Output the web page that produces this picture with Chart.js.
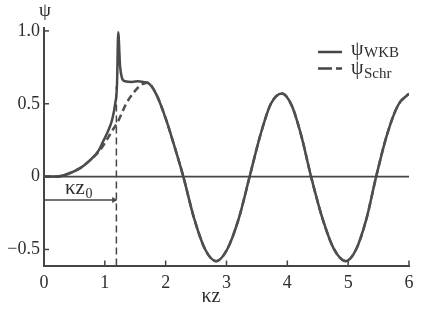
<!DOCTYPE html>
<html lang="en">
<head>
<meta charset="UTF-8">
<title>psi WKB vs Schr</title>
<script src="https://cdn.jsdelivr.net/npm/chart.js"></script>
<style>
  html, body { margin: 0; padding: 0; background: #fff; }
  #box { width: 436px; height: 316px; }
</style>
</head>
<body>
<div id="box"><canvas id="c"></canvas></div>
<script>
// values
const kzWKB  = [0, 0.2, 0.4, 0.6, 0.75, 0.9, 0.97, 1.05, 1.12, 1.17, 1.2, 1.22, 1.25, 1.28, 1.33, 1.45, 1.55, 1.65, 1.7,
                1.84, 2.0, 2.15, 2.29, 2.47, 2.65, 2.83, 3.01, 3.2, 3.38, 3.56, 3.73, 3.91, 4.07, 4.23, 4.39, 4.58, 4.77, 4.96, 5.13, 5.3, 5.46, 5.64, 5.82, 6.0];
const psiWKB = [0, 0.0, 0.02, 0.06, 0.11, 0.18, 0.24, 0.31, 0.39, 0.5, 0.63, 0.99, 0.76, 0.68, 0.655, 0.65, 0.655, 0.648, 0.645,
                0.57, 0.4, 0.2, 0, -0.29, -0.5, -0.58, -0.5, -0.29, 0, 0.29, 0.5, 0.57, 0.49, 0.28, 0, -0.29, -0.5, -0.58, -0.5, -0.29, 0, 0.29, 0.49, 0.57];

const kzSchr  = [0, 0.2, 0.4, 0.6, 0.75, 0.9, 1.0, 1.1, 1.23, 1.35, 1.5, 1.6, 1.7,
                 1.84, 2.0, 2.15, 2.29, 2.47, 2.65, 2.83, 3.01, 3.2, 3.38, 3.56, 3.73, 3.91, 4.07, 4.23, 4.39, 4.58, 4.77, 4.96, 5.13, 5.3, 5.46, 5.64, 5.82, 6.0];
const psiSchr = [0, 0.0, 0.02, 0.06, 0.11, 0.17, 0.23, 0.3, 0.39, 0.5, 0.59, 0.63, 0.645,
                 0.57, 0.4, 0.2, 0, -0.29, -0.5, -0.58, -0.5, -0.29, 0, 0.29, 0.5, 0.57, 0.49, 0.28, 0, -0.29, -0.5, -0.58, -0.5, -0.29, 0, 0.29, 0.49, 0.57];

const kz0 = 1.19;          // turning point
const arrowY = -0.16;      // height of the kz0 arrow
const xTicks = [0, 1, 2, 3, 4, 5, 6];
const yTicks = [-0.5, 0, 0.5, 1.0];
const yMin = -0.61, yMax = 1.02;

const ink = '#454545';
const serif = '"Liberation Serif", "DejaVu Serif", serif';

const pts = (xs, ys) => xs.map((x, i) => ({ x: x, y: ys[i] }));

// text with a subscript, placed from its left edge
function subText(ctx, main, sub, x, y, big, small, drop) {
  ctx.font = big + 'px ' + serif;
  ctx.fillText(main, x, y);
  const w = ctx.measureText(main).width;
  ctx.font = small + 'px ' + serif;
  ctx.fillText(sub, x + w + 0.5, y + drop);
}

const overlay = {
  id: 'overlay',
  afterDraw(chart) {
    const { ctx, scales: { x, y } } = chart;
    ctx.save();
    ctx.strokeStyle = ink;
    ctx.fillStyle = '#2e2e2e';
    ctx.lineWidth = 1.5;
    // inward ticks
    yTicks.forEach(v => {
      if (v === 0) return;
      const py = y.getPixelForValue(v);
      ctx.beginPath(); ctx.moveTo(x.left, py); ctx.lineTo(x.left + 5, py); ctx.stroke();
    });
    xTicks.forEach(v => {
      if (v === 0) return;
      const px = x.getPixelForValue(v);
      ctx.beginPath(); ctx.moveTo(px, y.bottom); ctx.lineTo(px, y.bottom - 5); ctx.stroke();
    });
    // axis titles
    ctx.textAlign = 'center'; ctx.textBaseline = 'middle';
    ctx.font = '19px ' + serif;
    ctx.fillText('ψ', 45, 11);
    ctx.font = '20px ' + serif;
    ctx.fillText('κz', 211, 297);
    // kz0 label
    ctx.textAlign = 'left'; ctx.textBaseline = 'alphabetic';
    subText(ctx, 'κz', '0', 65, 194, 21, 14, 4);
    // legend
    ctx.lineWidth = 2.5;
    ctx.beginPath(); ctx.moveTo(318, 52); ctx.lineTo(342, 52); ctx.stroke();
    ctx.setLineDash([14, 4]);
    ctx.beginPath(); ctx.moveTo(318, 68.5); ctx.lineTo(342, 68.5); ctx.stroke();
    ctx.setLineDash([]);
    subText(ctx, 'ψ', 'WKB', 351, 55, 20, 15, 2);
    subText(ctx, 'ψ', 'Schr', 351, 74, 20, 15, 4);
    ctx.restore();
  }
};

new Chart(document.getElementById('c'), {
  type: 'line',
  data: {
    datasets: [
      { // zero line
        data: pts([0, 6], [0, 0]),
        borderColor: ink, borderWidth: 1.8, pointRadius: 0
      },
      { // kz0 arrow
        data: pts([0, kz0 - 0.04], [arrowY, arrowY]),
        borderColor: ink, borderWidth: 1.5,
        pointRadius: [0, 3.5], pointStyle: 'triangle', rotation: 90,
        pointBackgroundColor: ink, pointBorderWidth: 0
      },
      { // kz0 dashed marker
        data: pts([kz0, kz0], [yMin, 0.62]),
        borderColor: ink, borderWidth: 1.5, borderDash: [7, 4], pointRadius: 0
      },
      {
        label: 'ψSchr',
        data: pts(kzSchr, psiSchr),
        borderColor: '#505050', borderWidth: 2.5, borderDash: [7, 4],
        pointRadius: 0, cubicInterpolationMode: 'monotone'
      },
      {
        label: 'ψWKB',
        data: pts(kzWKB, psiWKB),
        borderColor: '#4a4a4a', borderWidth: 2.5,
        pointRadius: 0, cubicInterpolationMode: 'monotone'
      }
    ]
  },
  options: {
    responsive: true,
    maintainAspectRatio: false,
    animation: false,
    layout: { padding: { left: 0, right: 27, top: 28, bottom: 0 } },
    plugins: { legend: { display: false }, tooltip: { enabled: false } },
    scales: {
      x: {
        type: 'linear', min: 0, max: 6,
        afterBuildTicks: s => { s.ticks = xTicks.map(v => ({ value: v })); },
        afterFit: s => { s.height = 50.5; },
        grid: { display: false, drawTicks: false },
        border: { display: true, color: ink, width: 2 },
        ticks: { padding: 7, color: '#2e2e2e', font: { family: serif, size: 18 } }
      },
      y: {
        type: 'linear', min: yMin, max: yMax,
        afterBuildTicks: s => { s.ticks = yTicks.map(v => ({ value: v })); },
        afterFit: s => { s.width = 44; },
        grid: { display: false, drawTicks: false },
        border: { display: true, color: ink, width: 2 },
        ticks: {
          padding: 4, color: '#2e2e2e', font: { family: serif, size: 18 },
          callback: v => v === 0 ? '0' : (v < 0 ? '\u2212' + Math.abs(v).toFixed(1) : v.toFixed(1))
        }
      }
    }
  },
  plugins: [overlay]
});
</script>
</body>
</html>
